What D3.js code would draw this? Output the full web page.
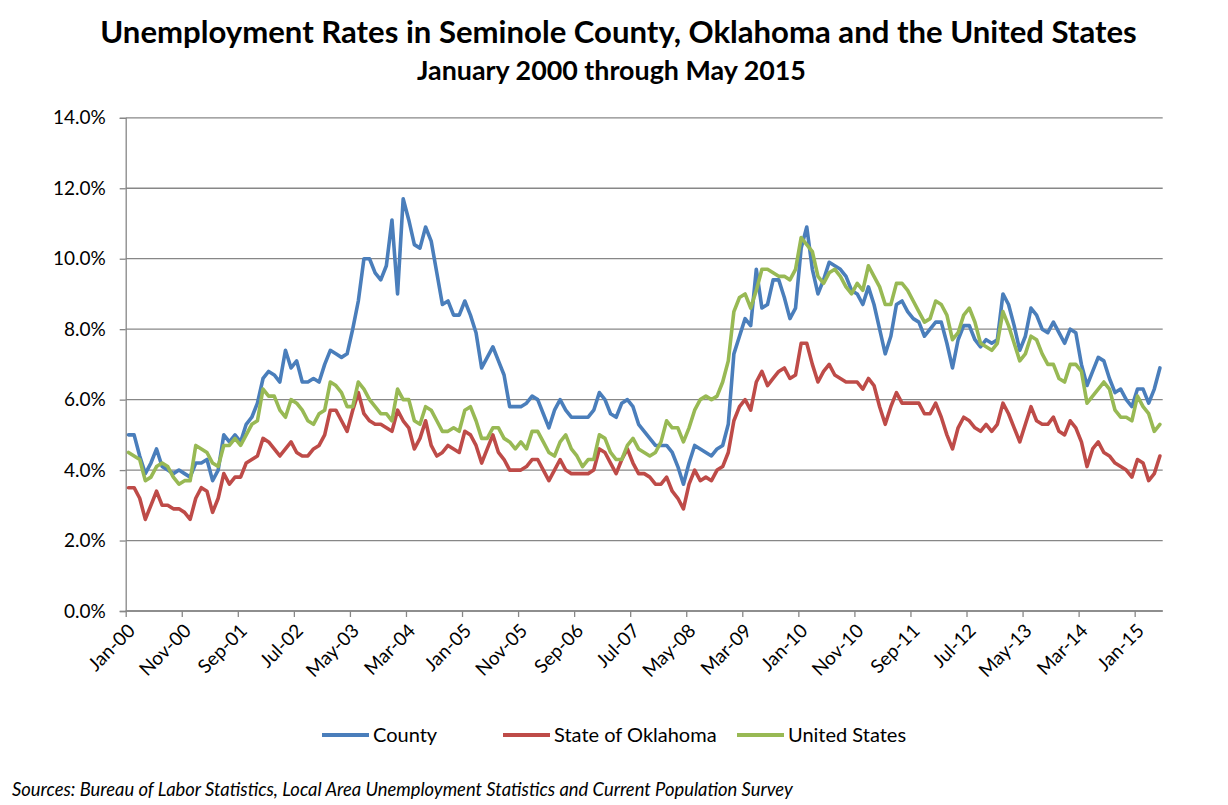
<!DOCTYPE html>
<html>
<head>
<meta charset="utf-8">
<script src="https://cdn.jsdelivr.net/npm/d3@7"></script>
<style>
  html, body { margin: 0; padding: 0; background: #fff; }
  svg { display: block; font-family: Lato, "Open Sans", sans-serif; }
</style>
</head>
<body>
<svg id="chart" width="1228" height="805"></svg>
<script>
// Monthly unemployment rates (%), January 2000 through May 2015
const county = [
  5.0, 5.0, 4.4, 3.9, 4.2, 4.6, 4.1, 4.0, 3.9, 4.0, 3.9, 3.8,
  4.2, 4.2, 4.3, 3.7, 4.0, 5.0, 4.8, 5.0, 4.8, 5.3, 5.5, 5.9,
  6.6, 6.8, 6.7, 6.5, 7.4, 6.9, 7.1, 6.5, 6.5, 6.6, 6.5, 7.0,
  7.4, 7.3, 7.2, 7.3, 8.0, 8.8, 10.0, 10.0, 9.6, 9.4, 9.8, 11.1,
  9.0, 11.7, 11.1, 10.4, 10.3, 10.9, 10.5, 9.6, 8.7, 8.8, 8.4, 8.4,
  8.8, 8.4, 7.9, 6.9, 7.2, 7.5, 7.1, 6.7, 5.8, 5.8, 5.8, 5.9,
  6.1, 6.0, 5.6, 5.2, 5.7, 6.0, 5.7, 5.5, 5.5, 5.5, 5.5, 5.7,
  6.2, 6.0, 5.6, 5.5, 5.9, 6.0, 5.8, 5.3, 5.1, 4.9, 4.7, 4.7,
  4.7, 4.5, 4.1, 3.6, 4.2, 4.7, 4.6, 4.5, 4.4, 4.6, 4.7, 5.3,
  7.3, 7.8, 8.3, 8.1, 9.7, 8.6, 8.7, 9.4, 9.4, 8.9, 8.3, 8.6,
  10.3, 10.9, 9.7, 9.0, 9.4, 9.9, 9.8, 9.7, 9.5, 9.1, 9.0, 8.7,
  9.2, 8.7, 8.0, 7.3, 7.8, 8.7, 8.8, 8.5, 8.3, 8.2, 7.8, 8.0,
  8.2, 8.2, 7.6, 6.9, 7.7, 8.1, 8.1, 7.7, 7.5, 7.7, 7.6, 7.7,
  9.0, 8.7, 8.1, 7.4, 7.8, 8.6, 8.4, 8.0, 7.9, 8.2, 7.9, 7.6,
  8.0, 7.9, 7.0, 6.4, 6.8, 7.2, 7.1, 6.6, 6.2, 6.3, 6.0, 5.8,
  6.3, 6.3, 5.9, 6.3, 6.9
];
const oklahoma = [
  3.5, 3.5, 3.2, 2.6, 3.0, 3.4, 3.0, 3.0, 2.9, 2.9, 2.8, 2.6,
  3.2, 3.5, 3.4, 2.8, 3.2, 3.9, 3.6, 3.8, 3.8, 4.2, 4.3, 4.4,
  4.9, 4.8, 4.6, 4.4, 4.6, 4.8, 4.5, 4.4, 4.4, 4.6, 4.7, 5.0,
  5.7, 5.7, 5.4, 5.1, 5.7, 6.2, 5.6, 5.4, 5.3, 5.3, 5.2, 5.1,
  5.7, 5.4, 5.2, 4.6, 4.9, 5.4, 4.7, 4.4, 4.5, 4.7, 4.6, 4.5,
  5.1, 5.0, 4.7, 4.2, 4.6, 5.0, 4.5, 4.3, 4.0, 4.0, 4.0, 4.1,
  4.3, 4.3, 4.0, 3.7, 4.0, 4.3, 4.0, 3.9, 3.9, 3.9, 3.9, 4.0,
  4.6, 4.5, 4.2, 3.9, 4.3, 4.6, 4.2, 3.9, 3.9, 3.8, 3.6, 3.6,
  3.8, 3.4, 3.2, 2.9, 3.6, 4.0, 3.7, 3.8, 3.7, 4.0, 4.1, 4.5,
  5.4, 5.8, 6.0, 5.7, 6.5, 6.8, 6.4, 6.6, 6.8, 6.9, 6.6, 6.7,
  7.6, 7.6, 7.0, 6.5, 6.8, 7.0, 6.7, 6.6, 6.5, 6.5, 6.5, 6.3,
  6.6, 6.4, 5.8, 5.3, 5.8, 6.2, 5.9, 5.9, 5.9, 5.9, 5.6, 5.6,
  5.9, 5.5, 5.0, 4.6, 5.2, 5.5, 5.4, 5.2, 5.1, 5.3, 5.1, 5.3,
  5.9, 5.6, 5.2, 4.8, 5.3, 5.8, 5.4, 5.3, 5.3, 5.5, 5.1, 5.0,
  5.4, 5.2, 4.8, 4.1, 4.6, 4.8, 4.5, 4.4, 4.2, 4.1, 4.0, 3.8,
  4.3, 4.2, 3.7, 3.9, 4.4
];
const unitedStates = [
  4.5, 4.4, 4.3, 3.7, 3.8, 4.1, 4.2, 4.1, 3.8, 3.6, 3.7, 3.7,
  4.7, 4.6, 4.5, 4.2, 4.1, 4.7, 4.7, 4.9, 4.7, 5.0, 5.3, 5.4,
  6.3, 6.1, 6.1, 5.7, 5.5, 6.0, 5.9, 5.7, 5.4, 5.3, 5.6, 5.7,
  6.5, 6.4, 6.2, 5.8, 5.8, 6.5, 6.3, 6.0, 5.8, 5.6, 5.6, 5.4,
  6.3, 6.0, 6.0, 5.4, 5.3, 5.8, 5.7, 5.4, 5.1, 5.1, 5.2, 5.1,
  5.7, 5.8, 5.4, 4.9, 4.9, 5.2, 5.2, 4.9, 4.8, 4.6, 4.8, 4.6,
  5.1, 5.1, 4.8, 4.5, 4.4, 4.8, 5.0, 4.6, 4.4, 4.1, 4.3, 4.3,
  5.0, 4.9, 4.5, 4.3, 4.3, 4.7, 4.9, 4.6, 4.5, 4.4, 4.5, 4.8,
  5.4, 5.2, 5.2, 4.8, 5.2, 5.7, 6.0, 6.1, 6.0, 6.1, 6.5, 7.1,
  8.5, 8.9, 9.0, 8.6, 9.1, 9.7, 9.7, 9.6, 9.5, 9.5, 9.4, 9.7,
  10.6, 10.4, 10.2, 9.5, 9.3, 9.6, 9.7, 9.5, 9.2, 9.0, 9.3, 9.1,
  9.8, 9.5, 9.2, 8.7, 8.7, 9.3, 9.3, 9.1, 8.8, 8.5, 8.2, 8.3,
  8.8, 8.7, 8.4, 7.7, 7.9, 8.4, 8.6, 8.2, 7.6, 7.5, 7.4, 7.6,
  8.5, 8.1, 7.6, 7.1, 7.3, 7.8, 7.7, 7.3, 7.0, 7.0, 6.6, 6.5,
  7.0, 7.0, 6.8, 5.9, 6.1, 6.3, 6.5, 6.3, 5.7, 5.5, 5.5, 5.4,
  6.1, 5.8, 5.6, 5.1, 5.3
];
const seriesNames = ["County", "State of Oklahoma", "United States"];
const seriesColors = ["#4a7ebb", "#be4b48", "#98b954"];
const yTicks = [0, 2, 4, 6, 8, 10, 12, 14];
const xTickIndex = [0, 10, 20, 30, 40, 50, 60, 70, 80, 90, 100, 110, 120, 130, 140, 150, 160, 170, 180];
const xTickLabels = ["Jan-00", "Nov-00", "Sep-01", "Jul-02", "May-03", "Mar-04", "Jan-05", "Nov-05", "Sep-06",
  "Jul-07", "May-08", "Mar-09", "Jan-10", "Nov-10", "Sep-11", "Jul-12", "May-13", "Mar-14", "Jan-15"];

const titleText = "Unemployment Rates in Seminole County, Oklahoma and the United States";
const subtitleText = "January 2000 through May 2015";
const sourceText = "Sources: Bureau of Labor Statistics, Local Area Unemployment Statistics and Current Population Survey";

const svg = d3.select("#chart");
const plot = { left: 125.7, right: 1162.7, top: 117.8, bottom: 611 };
const nMonths = county.length;

// Monthly buckets; each point sits in the middle of its month
const x = d3.scaleLinear().domain([0, nMonths]).range([plot.left, plot.right]);
const y = d3.scaleLinear().domain([0, 14]).range([plot.bottom, plot.top]);
const gridColor = "#878787";

// Horizontal gridlines
svg.append("g").selectAll("line").data(yTicks).join("line")
  .attr("x1", plot.left).attr("x2", plot.right)
  .attr("y1", d => y(d)).attr("y2", d => y(d))
  .attr("stroke", gridColor).attr("stroke-width", 1.3);

// Y axis
const yAxis = svg.append("g").attr("transform", `translate(${plot.left},0)`)
  .call(d3.axisLeft(y).tickValues(yTicks).tickSize(6).tickPadding(14)
    .tickFormat(d => d.toFixed(1) + "%"));
yAxis.select(".domain").attr("stroke", gridColor).attr("stroke-width", 1.3);
yAxis.selectAll(".tick line").attr("stroke", gridColor).attr("stroke-width", 1.3);
yAxis.selectAll("text").attr("font-size", 19).attr("fill", "#000")
  .style("font-family", "Lato, sans-serif");

// X axis
const xAxis = svg.append("g").attr("transform", `translate(0,${plot.bottom})`)
  .call(d3.axisBottom(x).tickValues(xTickIndex).tickSize(6)
    .tickFormat((d, i) => xTickLabels[i]));
xAxis.select(".domain").attr("stroke", gridColor).attr("stroke-width", 1.3)
  .attr("d", `M${plot.left},0H${plot.right}`);
xAxis.selectAll(".tick line").attr("stroke", gridColor).attr("stroke-width", 1.3);
xAxis.selectAll("text")
  .attr("font-size", 19).attr("fill", "#000")
  .style("font-family", "Lato, sans-serif")
  .attr("text-anchor", "end")
  .attr("dy", null).attr("y", 0)
  .attr("transform", "translate(10,21) rotate(-45)");

// Series lines
const line = d3.line()
  .x((d, i) => x(i + 0.5))
  .y(d => y(d))
  .curve(d3.curveLinear);
const seriesData = [county, oklahoma, unitedStates];
svg.append("g").selectAll("path").data(seriesData).join("path")
  .attr("d", d => line(d))
  .attr("fill", "none")
  .attr("stroke", (d, i) => seriesColors[i])
  .attr("stroke-width", 3.6)
  .attr("stroke-linejoin", "round")
  .attr("stroke-linecap", "round");

// Titles
function fitText(sel, width) {
  const w = sel.node().getComputedTextLength();
  const fs = parseFloat(sel.attr("font-size"));
  sel.attr("font-size", fs * width / w);
}
const title = svg.append("text").text(titleText)
  .attr("x", 618.5).attr("y", 43).attr("text-anchor", "middle")
  .attr("font-size", 28).attr("font-weight", "bold").attr("fill", "#000");
fitText(title, 1037);
const subtitle = svg.append("text").text(subtitleText)
  .attr("x", 611.5).attr("y", 80).attr("text-anchor", "middle")
  .attr("font-size", 21).attr("font-weight", "bold").attr("fill", "#000");
fitText(subtitle, 389);

// Legend
const legendItems = [
  { x: 322, tx: 373 },
  { x: 503, tx: 554 },
  { x: 737, tx: 788 }
];
const legend = svg.append("g");
legend.selectAll("line").data(seriesNames).join("line")
  .attr("x1", (d, i) => legendItems[i].x).attr("x2", (d, i) => legendItems[i].x + 47)
  .attr("y1", 735).attr("y2", 735)
  .attr("stroke", (d, i) => seriesColors[i]).attr("stroke-width", 4);
legend.selectAll("text").data(seriesNames).join("text")
  .attr("x", (d, i) => legendItems[i].tx).attr("y", 742)
  .attr("font-size", 20).attr("fill", "#000")
  .text(d => d);

// Source note
const source = svg.append("text").text(sourceText)
  .attr("x", 12).attr("y", 796)
  .attr("font-size", 15).attr("font-style", "italic").attr("fill", "#000");
fitText(source, 781);
</script>
</body>
</html>
